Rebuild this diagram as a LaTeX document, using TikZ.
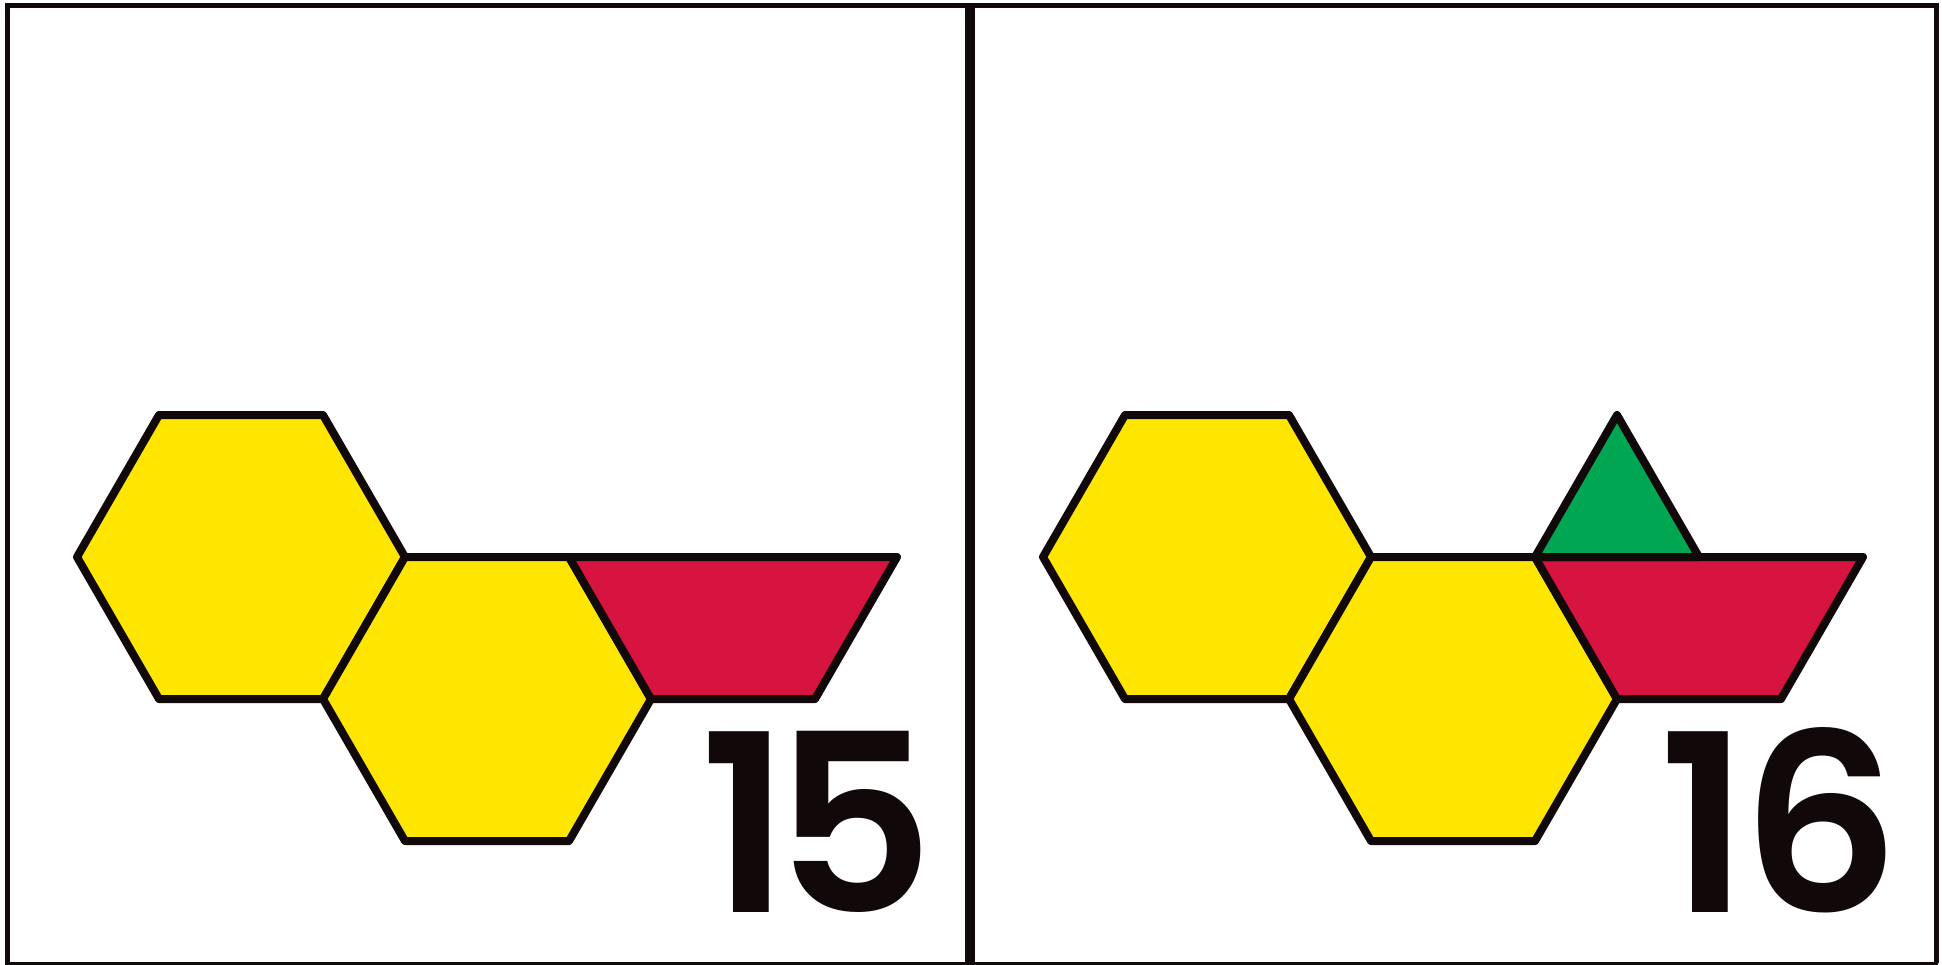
\documentclass[tikz,border=0pt]{standalone}
\usepackage{fontspec}
\usepackage{xcolor}
\usepackage{tikz}
\usetikzlibrary{positioning}
\newfontfamily\numfont{Poppins}[UprightFont={* SemiBold}]
\definecolor{inkdark}{HTML}{100809}
\definecolor{hexyellow}{HTML}{FFE600}
\definecolor{trapred}{HTML}{D6143F}
\definecolor{trigreen}{HTML}{00A651}

\begin{document}
\begin{tikzpicture}[
  x=1pt, y=-1pt,
  piece/.style={draw=inkdark, line width=8pt, line join=round},
  hexa/.style={piece, fill=hexyellow},
  trap/.style={piece, fill=trapred},
  tri/.style={piece, fill=trigreen},
  frameline/.style={draw=inkdark, line width=5pt},
  numlabel/.style={inner sep=0pt, anchor=base west, text=inkdark,
                   text height=186pt, text depth=0pt,
                   font=\numfont\fontsize{248}{248}\selectfont}]
\useasboundingbox (0,0) rectangle (1942,965);

% frame and divider
\draw[frameline] (7,963) -- (7,5.5) -- (1936,5.5) -- (1936,963);
\draw[frameline, line width=2.5pt] (5,963.5) -- (1938,963.5);
\draw[frameline, line width=10pt] (970,5.5) -- (970,963);

% two hexagons and the trapezoid, in both panels
\foreach \dx in {0,966} {
  \draw[hexa] (\dx+159,415) -- ++(164,0) -- ++(82,142) -- ++(-82,142)
              -- ++(-164,0) -- ++(-82,-142) -- cycle;
  \draw[hexa] (\dx+405,557) -- ++(164,0) -- ++(82,142) -- ++(-82,142)
              -- ++(-164,0) -- ++(-82,-142) -- cycle;
  \draw[trap] (\dx+569,557) -- ++(328,0) -- ++(-82,142) -- ++(-164,0) -- cycle;
}

% triangle, right panel only
\draw[tri] (1535,557) -- (1617,415) -- (1699,557) -- cycle;

\node[numlabel] (num15) at (700,912) {1\kern-16pt 5};
\node[numlabel] (num16) at (1659,912) {1\kern-8pt 6};
\end{tikzpicture}
\end{document}
